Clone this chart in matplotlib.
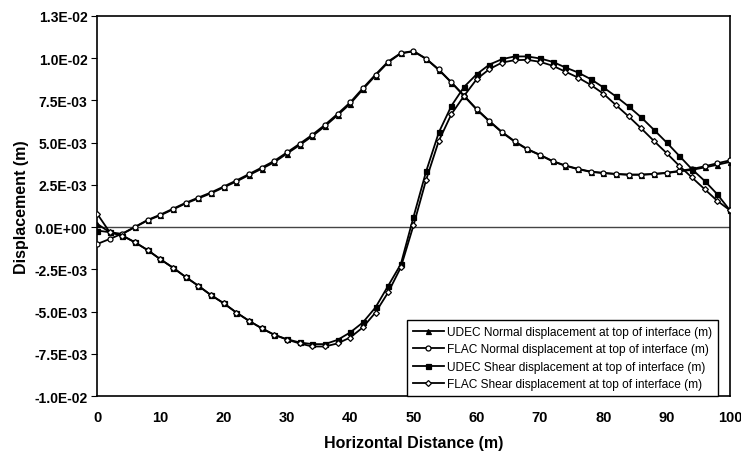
import numpy as np
import matplotlib.pyplot as plt
from matplotlib.ticker import FixedLocator

plt.rcParams['font.family'] = ['Liberation Sans', 'DejaVu Sans']

# Horizontal distance (m), every 2 m
distance = list(range(0, 101, 2))

# Displacements in units of 1E-3 m
udec_normal = [0.2, -0.3, -0.4, 0.0, 0.4, 0.7, 1.05, 1.4, 1.7, 2.0,
               2.35, 2.7, 3.08, 3.45, 3.84, 4.35, 4.85, 5.38, 5.97, 6.62,
               7.3, 8.15, 8.97, 9.75, 10.28, 10.4, 9.95, 9.3, 8.55, 7.75,
               6.95, 6.25, 5.6, 5.05, 4.6, 4.26, 3.89, 3.63, 3.43, 3.27,
               3.2, 3.14, 3.1, 3.1, 3.14, 3.2, 3.3, 3.39, 3.53, 3.69, 3.86]
flac_normal = [-1.0, -0.7, -0.38, 0.02, 0.43, 0.74, 1.09, 1.44, 1.75, 2.05,
               2.4, 2.76, 3.14, 3.52, 3.92, 4.42, 4.93, 5.46, 6.05, 6.7,
               7.38, 8.22, 9.03, 9.8, 10.3, 10.42, 9.97, 9.33, 8.57, 7.78,
               6.98, 6.28, 5.63, 5.08, 4.62, 4.28, 3.91, 3.65, 3.45, 3.29,
               3.21, 3.15, 3.11, 3.11, 3.15, 3.22, 3.33, 3.44, 3.6, 3.78, 3.95]
udec_shear = [-0.2, -0.3, -0.5, -0.9, -1.36, -1.9, -2.4, -2.95, -3.47, -4.02,
              -4.5, -5.05, -5.54, -5.98, -6.37, -6.63, -6.82, -6.92, -6.92, -6.67,
              -6.23, -5.64, -4.75, -3.47, -2.19, 0.6, 3.3, 5.6, 7.18, 8.3,
              9.05, 9.62, 9.94, 10.1, 10.1, 9.98, 9.78, 9.45, 9.15, 8.76,
              8.27, 7.73, 7.14, 6.49, 5.76, 5.01, 4.22, 3.43, 2.74, 1.95, 1.0]
flac_shear = [0.8, -0.3, -0.5, -0.9, -1.36, -1.9, -2.4, -2.95, -3.47, -4.02,
              -4.5, -5.05, -5.54, -5.98, -6.37, -6.65, -6.88, -7.06, -7.06, -6.88,
              -6.53, -5.93, -5.05, -3.86, -2.38, 0.1, 2.8, 5.1, 6.69, 7.77,
              8.76, 9.35, 9.74, 9.88, 9.9, 9.78, 9.55, 9.2, 8.85, 8.42,
              7.9, 7.22, 6.55, 5.84, 5.1, 4.38, 3.63, 2.94, 2.25, 1.56, 1.0]

y_ticks = [-1.0e-2, -7.5e-3, -5.0e-3, -2.5e-3, 0.0, 2.5e-3, 5.0e-3, 7.5e-3, 1.0e-2, 1.25e-2]
y_tick_labels = ['-1.0E-02', '-7.5E-03', '-5.0E-03', '-2.5E-03', '0.0E+00',
                 '2.5E-03', '5.0E-03', '7.5E-03', '1.0E-02', '1.3E-02']

series = [
    (udec_normal, '^', 'black', 'UDEC Normal displacement at top of interface (m)'),
    (flac_normal, 'o', 'white', 'FLAC Normal displacement at top of interface (m)'),
    (udec_shear, 's', 'black', 'UDEC Shear displacement at top of interface (m)'),
    (flac_shear, 'D', 'white', 'FLAC Shear displacement at top of interface (m)'),
]

fig = plt.figure(figsize=(7.41, 4.56), dpi=100)
ax = fig.add_axes([0.131, 0.129, 0.854, 0.834])

ax.axhline(0, color='#444444', lw=1.0, zorder=1)

for values, marker, face, label in series:
    ax.plot(distance, np.array(values) * 1e-3, color='black', lw=1.3,
            marker=marker, ms=3.6 if marker != 'D' else 3.0,
            markerfacecolor=face, markeredgecolor='black', markeredgewidth=0.9,
            label=label, zorder=3)

ax.set_xlim(0, 100)
ax.set_ylim(-1.0e-2, 1.25e-2)
ax.xaxis.set_major_locator(FixedLocator(range(0, 101, 10)))
ax.set_yticks(y_ticks)
ax.set_yticklabels(y_tick_labels)
ax.tick_params(axis='x', length=0, pad=10, labelsize=10.5)
ax.tick_params(axis='y', length=4, direction='out', labelsize=10, pad=3)
for lab in ax.get_xticklabels() + ax.get_yticklabels():
    lab.set_fontweight('bold')

for side in ax.spines.values():
    side.set_linewidth(1.2)

ax.set_xlabel('Horizontal Distance (m)', fontsize=11.5, fontweight='bold', labelpad=8)
ax.set_ylabel('Displacement (m)', fontsize=11.5, fontweight='bold', labelpad=4)

leg = ax.legend(loc='lower right', bbox_to_anchor=(0.982, 0.0), fontsize=8.6,
                frameon=True, fancybox=False, edgecolor='black', framealpha=1,
                handlelength=2.6, handletextpad=0.3, borderpad=0.5,
                labelspacing=0.45, borderaxespad=0.0)
leg.get_frame().set_linewidth(1.0)

fig.savefig('out.png', dpi=100)
